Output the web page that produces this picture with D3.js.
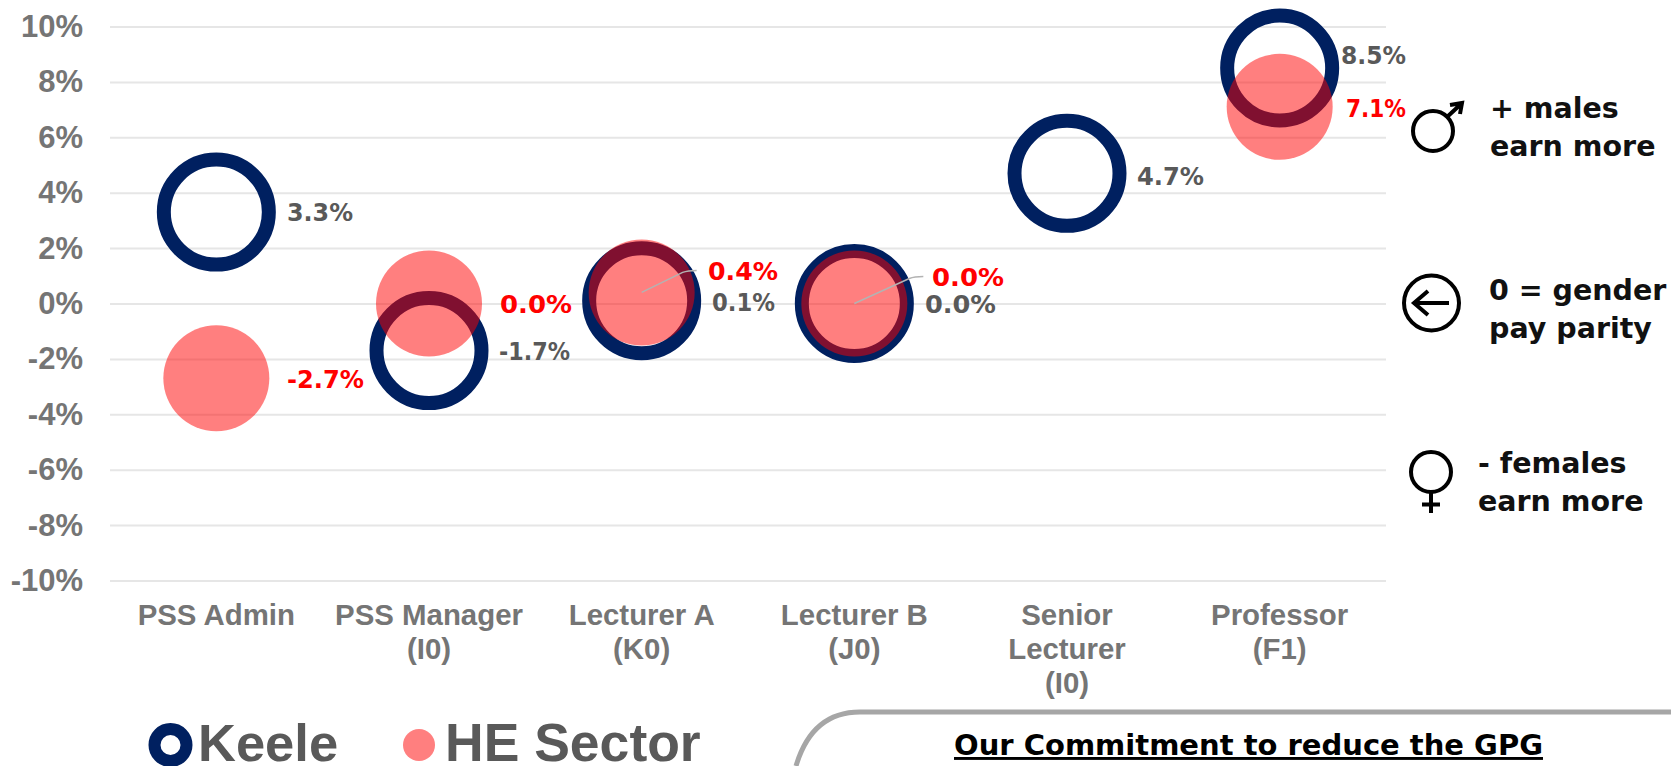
<!DOCTYPE html>
<html><head><meta charset="utf-8"><title>Gender pay gap</title>
<script src="https://cdnjs.cloudflare.com/ajax/libs/d3/7.8.5/d3.min.js"></script>
<style>html,body{margin:0;padding:0;background:#fff;overflow:hidden}svg{display:block}</style>
</head><body><svg id="c" width="1671" height="766"></svg>
<script>
const categories = ["PSS Admin","PSS Manager (I0)","Lecturer A (K0)","Lecturer B (J0)","Senior Lecturer (I0)","Professor (F1)"];
const categoryLines = [["PSS Admin"],["PSS Manager","(I0)"],["Lecturer A","(K0)"],["Lecturer B","(J0)"],["Senior","Lecturer","(I0)"],["Professor","(F1)"]];
const keele = [3.3,-1.7,0.1,0.0,4.7,8.5];
const sector = [-2.7,0.0,0.4,0.0,null,7.1];
const yTicks = [10,8,6,4,2,0,-2,-4,-6,-8,-10];
const seriesNames = ["Keele","HE Sector"];
const notes = [["+ males","earn more"],["0 = gender","pay parity"],["- females","earn more"]];
const commitment = "Our Commitment to reduce the GPG";

const NAVY="#002060", LABEL="#595959", AXIS="#757575", DATA_FONT="'DejaVu Sans',sans-serif", AXIS_FONT="'Liberation Sans',sans-serif";
const svg=d3.select("#c");
const x=d3.scaleBand().domain(categories).range([110,1386]);
const y=d3.scaleLinear().domain([-10,10]).range([580.5,26.5]);
const cx=c=>x(c)+x.bandwidth()/2;

// grid + y axis
const yAxis=d3.axisLeft(y).tickValues(yTicks).tickSize(-(1386-110)).tickPadding(27).tickFormat(d=>d+"%");
const gy=svg.append("g").attr("transform","translate(110,0)").call(yAxis);
gy.select(".domain").remove();
gy.selectAll(".tick line").attr("stroke","#e6e6e6").attr("stroke-width",2);
gy.selectAll(".tick text").attr("fill",AXIS).attr("font-family",AXIS_FONT).attr("font-weight",700).attr("font-size",31);

// x labels
const xl=svg.append("g");
categories.forEach((c,i)=>{
  categoryLines[i].forEach((t,j)=>{
    xl.append("text").attr("x",cx(c)).attr("y",625+j*34).attr("text-anchor","middle")
      .attr("fill",AXIS).attr("font-family",AXIS_FONT).attr("font-weight",700).attr("font-size",29.4).text(t);
  });
});

// marks
const rScale=d3.scaleOrdinal().domain(seriesNames).range([52.5,53]);
svg.append("g").selectAll("circle").data(categories.map((c,i)=>({c,v:keele[i]}))).join("circle")
  .attr("cx",d=>cx(d.c)).attr("cy",d=>y(d.v)).attr("r",rScale("Keele")).attr("fill","none").attr("stroke",NAVY).attr("stroke-width",14);
svg.append("g").selectAll("circle").data(categories.map((c,i)=>({c,v:sector[i]})).filter(d=>d.v!==null)).join("circle")
  .attr("cx",d=>cx(d.c)).attr("cy",d=>y(d.v)).attr("r",rScale("HE Sector")).attr("fill","#ff0000").attr("fill-opacity",.5);

// leader lines
[[2,55,22],[3,69,27]].forEach(([i,dx,dy])=>{
  const c=categories[i],x0=cx(c),y0=y(sector[i]);
  svg.append("path").attr("d",`M${x0},${y0} L${x0+dx-14},${y0-dy+2} Q${x0+dx-9},${y0-dy} ${x0+dx},${y0-dy}`)
    .attr("fill","none").attr("stroke","#b3b3b3").attr("stroke-width",1.5);
});

// data labels
const fmt=v=>v.toFixed(1)+"%";
const keeleLabelX=[287,499,712,925,1137,1341], keeleLabelY=[221,360,311,313,185,64], keeleLabelW=[66,71,63,71,67,65];
const sectorLabelX=[287,500,708,932,null,1346], sectorLabelY=[388,313,280,286,null,117], sectorLabelW=[77,72,70,72,null,60];
const label=(px,py,w,col,v)=>svg.append("text").attr("x",px).attr("y",py).attr("fill",col)
  .attr("font-family",DATA_FONT).attr("font-weight",700).attr("font-size",25)
  .attr("textLength",w).attr("lengthAdjust","spacingAndGlyphs").text(fmt(v));
categories.forEach((c,i)=>{
  label(keeleLabelX[i],keeleLabelY[i],keeleLabelW[i],LABEL,keele[i]);
  if(sector[i]!==null) label(sectorLabelX[i],sectorLabelY[i],sectorLabelW[i],"#ff0000",sector[i]);
});

// side notes
const noteX=[1490,1489,1478], noteY=[118,300,472.5];
notes.forEach((n,i)=>n.forEach((t,j)=>{
  svg.append("text").attr("x",noteX[i]).attr("y",noteY[i]+j*38).attr("fill","#111")
   .attr("font-family",DATA_FONT).attr("font-weight",700).attr("font-size",28.5).text(t);
}));
const ic=svg.append("g").attr("fill","none").attr("stroke","#000").attr("stroke-width",4);
// male
ic.append("circle").attr("cx",1433).attr("cy",131).attr("r",20);
ic.append("path").attr("d","M1447,117 L1461,104 M1450,105 L1462,103 L1460,114");
// parity
ic.append("circle").attr("cx",1431.5).attr("cy",303).attr("r",27.5);
ic.append("path").attr("d","M1414,303 H1449 M1428,291 L1414,303 L1428,315");
// female
ic.append("circle").attr("cx",1431).attr("cy",472).attr("r",20);
ic.append("path").attr("d","M1431,492 V513 M1422,504.5 H1440");

// legend
svg.append("circle").attr("cx",170.5).attr("cy",745).attr("r",16).attr("fill","none").attr("stroke",NAVY).attr("stroke-width",12);
svg.append("circle").attr("cx",419).attr("cy",745).attr("r",16).attr("fill","#ff0000").attr("fill-opacity",.5);
seriesNames.forEach((s,i)=>svg.append("text").attr("x",[198,445][i]).attr("y",761).attr("fill",LABEL)
  .attr("font-family",AXIS_FONT).attr("font-weight",700).attr("font-size",[52.5,53.5][i]).text(s));

// commitment box
svg.append("path").attr("d","M796,766 Q812,712 860,712 H1671").attr("fill","none").attr("stroke","#a6a6a6").attr("stroke-width",5);
svg.append("text").attr("x",954).attr("y",755).attr("fill","#000").attr("font-family",DATA_FONT).attr("font-weight",700)
  .attr("font-size",29).attr("text-decoration","underline").text(commitment);
</script></body></html>
